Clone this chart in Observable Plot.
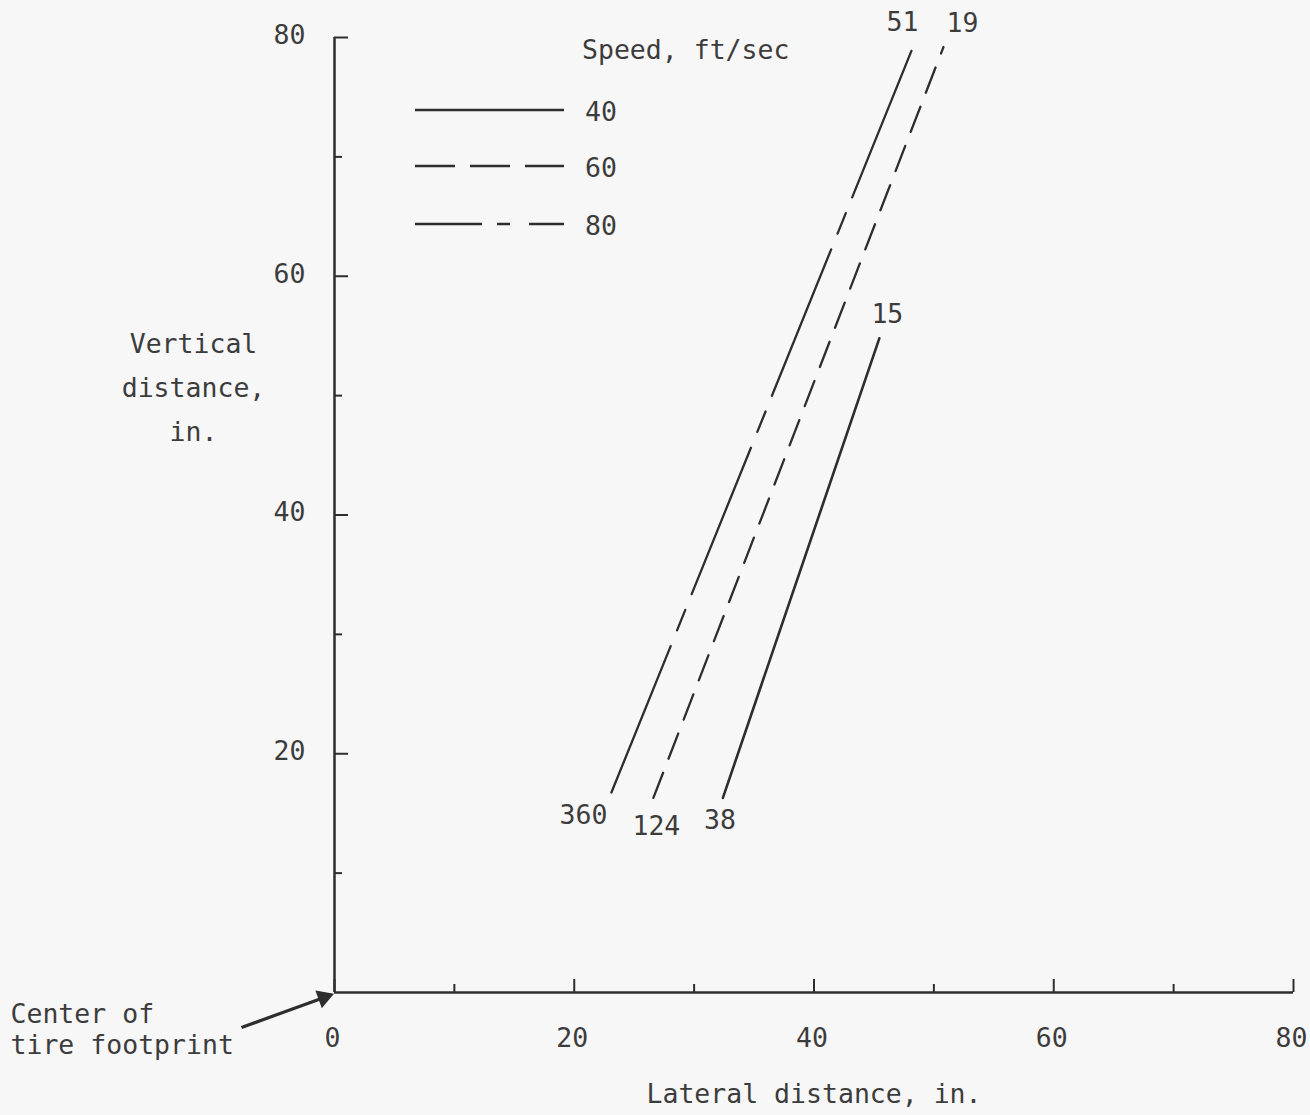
<!DOCTYPE html>
<html><head><meta charset="utf-8">
<script src="https://cdn.jsdelivr.net/npm/d3@7"></script>
<script src="https://cdn.jsdelivr.net/npm/@observablehq/plot@0.6"></script>
<style>html,body{margin:0;padding:0;background:#f7f7f7;}</style>
</head><body><div id="chart"></div>
<script>
// ---- data ----
const speeds = [40, 60, 80];                 // ft/sec
const lateralStart = [32.4, 26.6, 23.1];     // in.
const verticalStart = [16.3, 16.3, 16.75];   // in.
const lateralEnd = [45.45, 50.8, 48.3];      // in.
const verticalEnd = [54.8, 79.2, 79.3];      // in.
const startLabels = ["38", "124", "360"];
const endLabels = ["15", "19", "51"];
const xTicksMajor = [0, 20, 40, 60, 80];
const xTicksMinor = [10, 30, 50, 70];
const yTicksMajor = [20, 40, 60, 80];
const yTicksMinor = [10, 30, 50, 70];
const xTickLabels = ["0", "20", "40", "60", "80"];
const yTickLabels = ["20", "40", "60", "80"];
const arrowTail = [-7.76, -2.93];
const arrowHead = [-0.4, -0.25];

// ---- styles ----
const FS = 26.5;
const INK = "#2e2e2e";
const TXT = "#3c3c3c";
const lineDash = {40: null, 60: "27,15", 80: "158,17,22,17"};
const legendDash = {40: null, 60: "40,15", 80: "67,15,13,19"};
const startOffset = [[-3, 23], [3, 29], [-28, 23]];
const endOffset = [[8, -24], [19, -24], [-11, -23]];

const W = 1310, H = 1115;
const mL = 334, mR = 17, mT = 37, mB = 123;
const frameW = W - mL - mR, frameH = H - mT - mB;

const marks = [];
// axes lines
marks.push(Plot.ruleX([0], {x: d => d, y1: 0, y2: 80, stroke: INK, strokeWidth: 2.5}));
marks.push(Plot.ruleY([0], {y: d => d, x1: 0, x2: 80, stroke: INK, strokeWidth: 2.5}));
// ticks (inward)
marks.push(Plot.tickX(xTicksMajor, {x: d => d, insetTop: frameH - 13, stroke: INK, strokeWidth: 2}));
marks.push(Plot.tickX(xTicksMinor, {x: d => d, insetTop: frameH - 8, stroke: INK, strokeWidth: 2}));
marks.push(Plot.tickY(yTicksMajor, {y: d => d, insetRight: frameW - 14, stroke: INK, strokeWidth: 2}));
marks.push(Plot.tickY(yTicksMinor, {y: d => d, insetRight: frameW - 8, stroke: INK, strokeWidth: 2}));
// tick labels
marks.push(Plot.text(xTicksMajor, {x: d => d, y: 0, text: (d, i) => xTickLabels[i], dx: -2, dy: 46, fontSize: FS, fill: TXT}));
marks.push(Plot.text(yTicksMajor, {x: 0, y: d => d, text: (d, i) => yTickLabels[i], textAnchor: "end", dx: -29, dy: -2, fontSize: FS, fill: TXT}));
// axis titles
marks.push(Plot.text(["Lateral distance, in."], {frameAnchor: "bottom", dy: 110, fontSize: FS, fill: TXT}));
marks.push(Plot.text(["Vertical\ndistance,\nin."], {frameAnchor: "top-left", textAnchor: "middle", lineAnchor: "middle", dx: -141, dy: 345, lineHeight: 1.66, fontSize: FS, fill: TXT}));
marks.push(Plot.text(["Center of\ntire footprint"], {frameAnchor: "bottom-left", textAnchor: "start", lineAnchor: "middle", dx: -324, dy: 36, lineHeight: 1.17, fontSize: FS, fill: TXT}));
// annotation arrow: shaft + filled head
const arrowAngle = 70; // degrees, visual rotation of the triangle head
marks.push(Plot.link([0], {x1: () => arrowTail[0], y1: () => arrowTail[1], x2: () => arrowHead[0], y2: () => arrowHead[1], stroke: INK, strokeWidth: 3.2}));
marks.push(Plot.dot([0], {x: () => arrowHead[0], y: () => arrowHead[1], symbol: "triangle", r: 7, fill: INK, stroke: "none", rotate: arrowAngle, dx: -6, dy: 2}));

// data lines & end labels
speeds.forEach((s, i) => {
  const pts = [
    {speed: s, x: lateralStart[i], y: verticalStart[i]},
    {speed: s, x: lateralEnd[i], y: verticalEnd[i]}
  ];
  const opts = {x: "x", y: "y", stroke: INK, strokeWidth: s === 40 ? 2.6 : 2.3};
  if (lineDash[s]) opts.strokeDasharray = lineDash[s];
  marks.push(Plot.line(pts, opts));
  marks.push(Plot.text([pts[0]], {x: "x", y: "y", text: () => startLabels[i], dx: startOffset[i][0], dy: startOffset[i][1], fontSize: FS, fill: TXT}));
  marks.push(Plot.text([pts[1]], {x: "x", y: "y", text: () => endLabels[i], dx: endOffset[i][0], dy: endOffset[i][1], fontSize: FS, fill: TXT}));
});

const chart = Plot.plot({
  width: W, height: H,
  marginLeft: mL, marginRight: mR, marginTop: mT, marginBottom: mB,
  x: {domain: [0, 80], axis: null},
  y: {domain: [0, 80], axis: null},
  style: {background: "#f7f7f7", fontFamily: "'DejaVu Sans Mono', monospace", fontSize: FS + "px", color: TXT, overflow: "visible"},
  marks
});
document.getElementById("chart").appendChild(chart);

// ---- legend (inside the plot area, top-left) ----
const svg = d3.select(chart);
const lg = svg.append("g").attr("font-family", "'DejaVu Sans Mono', monospace").attr("font-size", FS).attr("text-anchor", "start");
lg.append("text").attr("x", 582).attr("y", 50).attr("dy", "0.35em").attr("fill", TXT).text("Speed, ft/sec");
const legendY = [110, 166, 224];
speeds.forEach((s, i) => {
  const l = lg.append("line").attr("x1", 415).attr("x2", 564).attr("y1", legendY[i]).attr("y2", legendY[i])
    .attr("stroke", INK).attr("stroke-width", 2.3);
  if (legendDash[s]) l.attr("stroke-dasharray", legendDash[s]);
  lg.append("text").attr("x", 585).attr("y", legendY[i] + 2).attr("dy", "0.35em").attr("fill", TXT).text(String(s));
});
</script>
</body></html>
